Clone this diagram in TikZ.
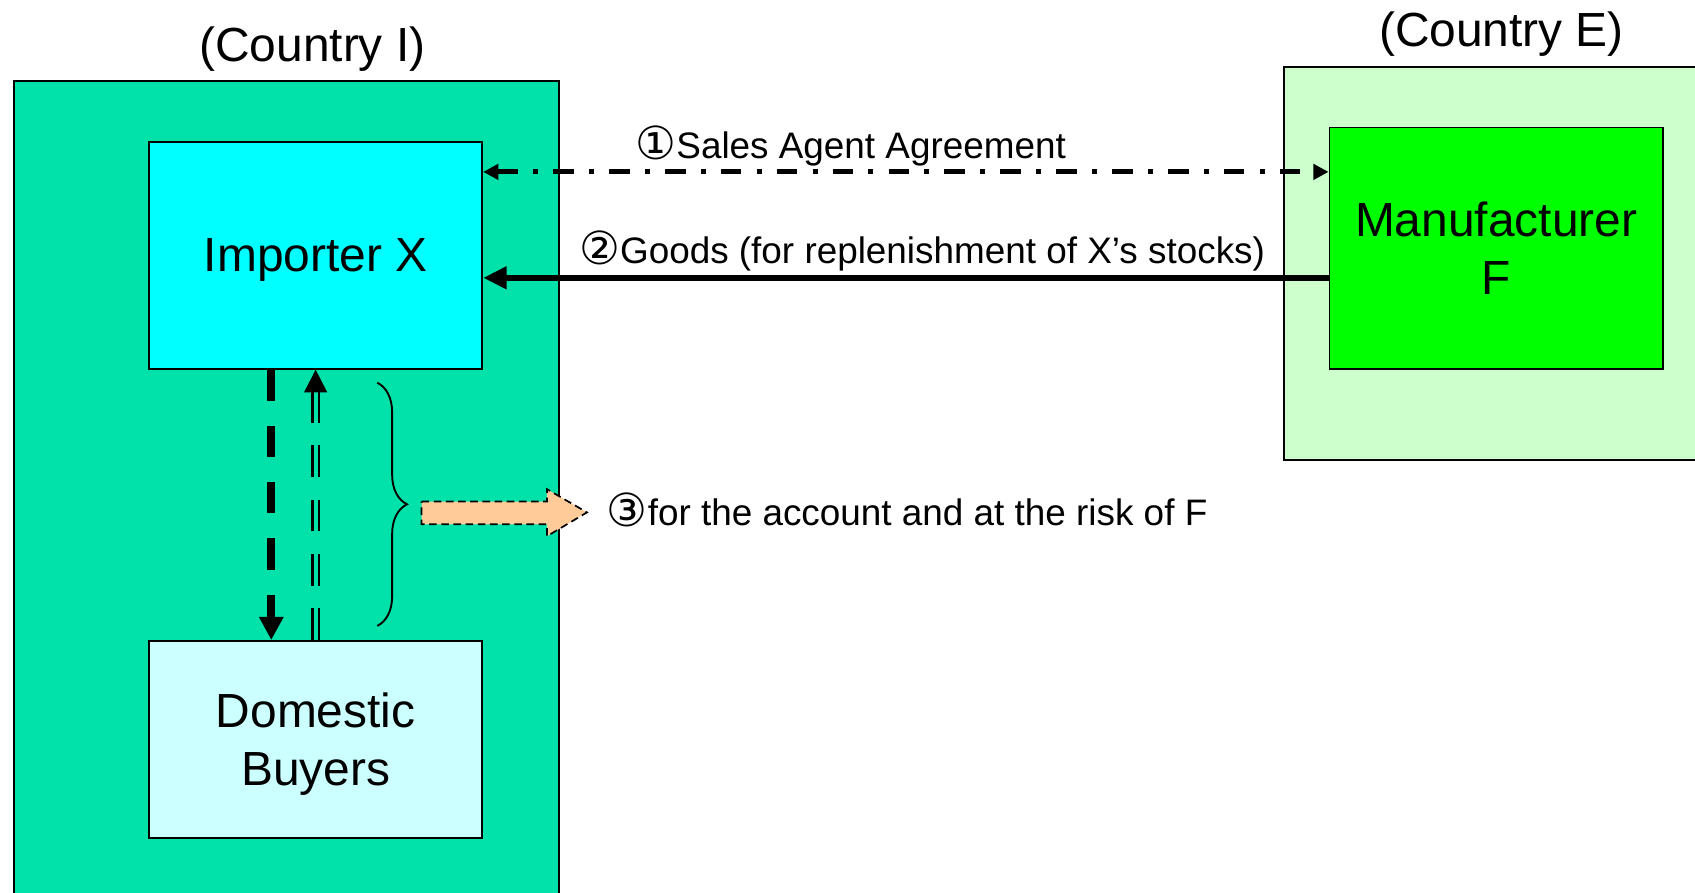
\documentclass[tikz,border=0pt]{standalone}
\usepackage{fontspec}
\setmainfont{Liberation Sans}
\newfontfamily\circfont{DejaVu Sans}
\usetikzlibrary{arrows.meta,decorations.pathreplacing}

\definecolor{countryI}{RGB}{0,226,170}
\definecolor{countryE}{RGB}{204,255,204}
\definecolor{importcyan}{RGB}{0,255,255}
\definecolor{buyerblue}{RGB}{204,255,255}
\definecolor{makergreen}{RGB}{0,255,0}
\definecolor{peach}{RGB}{255,204,153}

\newcommand{\circno}[1]{{\circfont\fontsize{12}{12}\selectfont\raisebox{-0.4pt}{#1}}}

\begin{document}
\begin{tikzpicture}[x=0.01cm, y=-0.01cm,
    region/.style={draw, line width=0.5pt, inner sep=0pt},
    box/.style={draw, line width=0.5pt, inner sep=0pt, minimum width=3.08cm, align=center,
        text depth=0pt, font=\fontsize{12.6}{15.3}\selectfont},
    big/.style={font=\fontsize{12.6}{15.3}\selectfont},
    small/.style={font=\fontsize{9.7}{11.6}\selectfont}]
        \useasboundingbox (0,0) rectangle (1568,826);

        \node[region, fill=countryI, minimum width=5.04cm, minimum height=7.6cm] (ci) at (265,455) {};
        \node[region, fill=countryE, minimum width=3.92cm, minimum height=3.63cm] (ce) at (1384,243.5) {};
        \node[big] (lci) at (289,45) {(Country I)};
        \node[big] (lce) at (1389,32) {(Country E)};

        \node[box, fill=importcyan, minimum height=2.1cm] (imp) at (292,236) {Importer X};
        \node[box, fill=buyerblue, minimum height=1.82cm] (dom) at (292,684) {Domestic\\Buyers};
        \node[box, fill=makergreen, minimum height=2.23cm] (man) at (1384,229.5) {Manufacturer\\F};

        \coordinate (sa) at (0,159);
        \coordinate (gd) at (0,257);
        \draw[line width=1.3pt, dash pattern=on 5.4pt off 4pt on 1.3pt off 4pt,
            {Triangle[length=4pt,width=4pt]}-{Triangle[length=4pt,width=4pt]}] (imp.east |- sa) -- (man.west |- sa);
        \draw[line width=1.75pt, -{Triangle[length=6.2pt,width=5.7pt]}] (man.west |- gd) -- (imp.east |- gd);
        \node[small] (lsa) at (787,135) {\circno{①}Sales Agent Agreement};
        \node[small] (lgd) at (853,232) {\circno{②}Goods (for replenishment of X’s stocks)};

        \draw[line width=2.2pt, dash pattern=on 8.2pt off 6.6pt,
            -{Triangle[length=6.1pt,width=6.1pt]}] ([xshift=-0.41cm]imp.south) -- ([xshift=-0.41cm]dom.north);
        \draw[line width=0.55pt, double=countryI, double distance=1.1pt, dash pattern=on 8.3pt off 6pt,
            -{Triangle[length=6pt,width=6pt]}] (dom.north) -- (imp.south);

        %% brace and block arrow
        \coordinate (bt) at (349,354);
        \coordinate (bb) at (349,579);
        \draw[line width=0.5pt, decorate, decoration={brace, amplitude=0.275cm}] (bt) -- (bb);
        \draw[fill=peach, line width=0.45pt, dash pattern=on 2pt off 1.2pt]
            (390,464) -- (506,464) -- (506,452.5) -- (543,474) -- (506,496) -- (506,485) -- (390,485) -- cycle;
        \node[small, anchor=west] (lrisk) at (549,472) {\circno{③}for the account and at the risk of F};
\end{tikzpicture}
\end{document}
